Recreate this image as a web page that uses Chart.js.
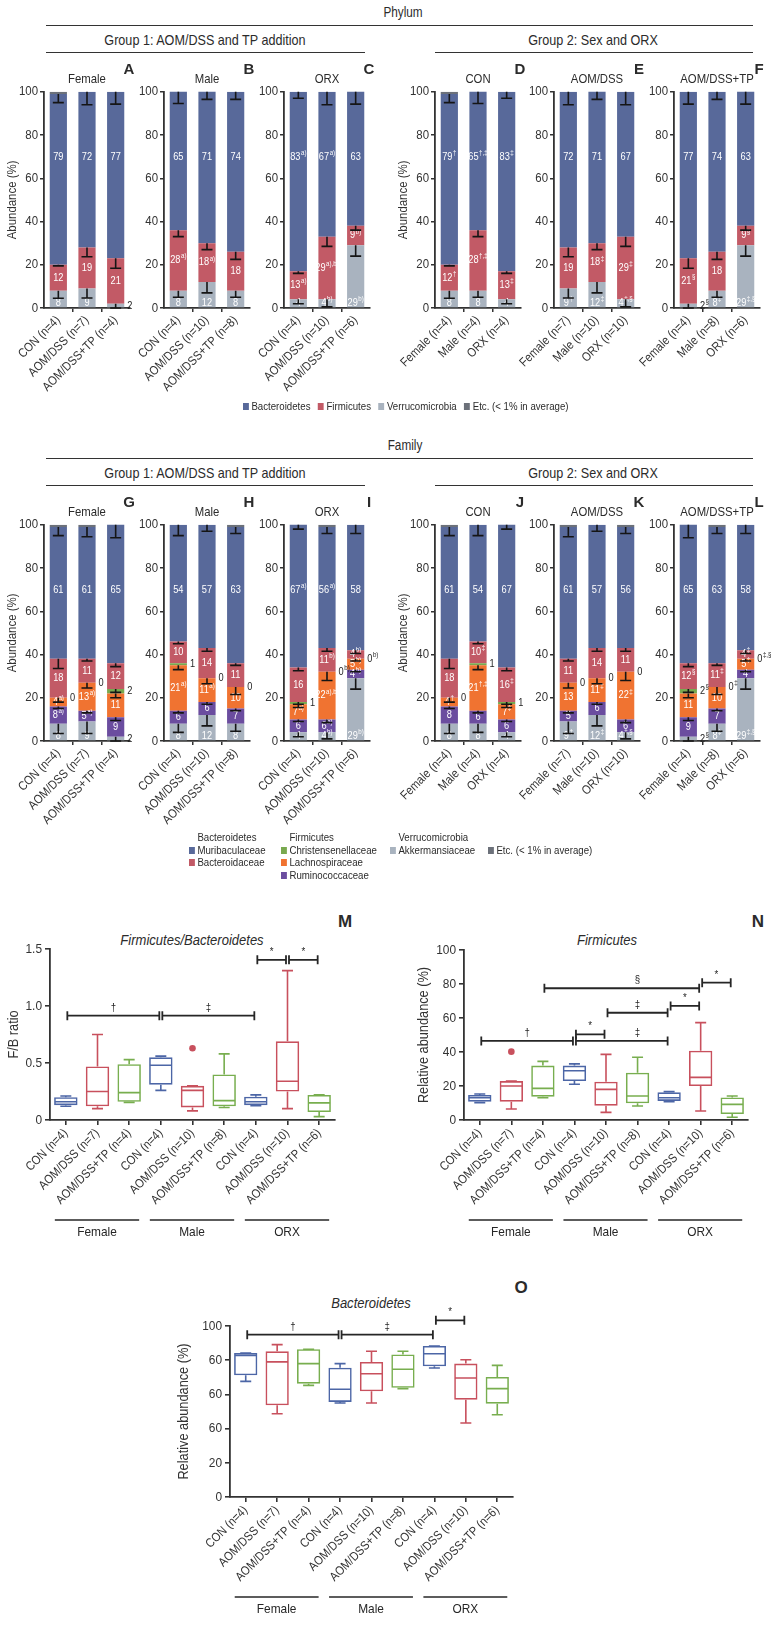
<!DOCTYPE html>
<html>
<head>
<meta charset="utf-8">
<script src="https://cdn.jsdelivr.net/npm/chart.js@4.4.1/dist/chart.umd.min.js"></script>
<style>
  body { margin: 0; background: #fff; width: 771px; height: 1632px; position: relative; overflow: hidden;
         font-family: "Liberation Sans", Arial, sans-serif; color: #2b2b2b; }
  .t { position: absolute; transform: translate(-50%, -50%) scaleX(0.84); white-space: nowrap; }
  .hl { position: absolute; height: 0; border-top: 1.6px solid #333; }
  .letter { font-weight: bold; font-size: 15px; transform: translate(-50%, -50%); }
  .lg { position: absolute; white-space: nowrap; font-size: 11.5px; line-height: 12.7px; transform: scaleX(0.84); transform-origin: 0 0; }
  .sq { display: inline-block; width: 7px; height: 7px; margin-right: 3px; vertical-align: 0px; }
  .it { font-style: italic; font-size: 14px; transform: translate(-50%, -50%) scaleX(0.93); }
</style>
</head>
<body>

<!-- section headers -->
<div class="t" style="left:403px;top:12px;font-size:14px">Phylum</div>
<div class="hl" style="left:46px;top:25px;width:707px"></div>
<div class="t" style="left:205px;top:39px;font-size:15px">Group 1: AOM/DSS and TP addition</div>
<div class="hl" style="left:46px;top:52px;width:319px"></div>
<div class="t" style="left:593px;top:39px;font-size:15px">Group 2: Sex and ORX</div>
<div class="hl" style="left:435px;top:52px;width:318px"></div>

<div class="t" style="left:405px;top:445px;font-size:14px">Family</div>
<div class="hl" style="left:46px;top:458px;width:707px"></div>
<div class="t" style="left:205px;top:472px;font-size:15px">Group 1: AOM/DSS and TP addition</div>
<div class="hl" style="left:46px;top:485px;width:319px"></div>
<div class="t" style="left:593px;top:472px;font-size:15px">Group 2: Sex and ORX</div>
<div class="hl" style="left:435px;top:485px;width:318px"></div>

<div class="t it" style="left:192px;top:940px">Firmicutes/Bacteroidetes</div>
<div class="t it" style="left:607px;top:940px">Firmicutes</div>
<div class="t it" style="left:371px;top:1303px">Bacteroidetes</div>
<div class="t letter" style="left:345px;top:922px;font-size:17px">M</div>
<div class="t letter" style="left:758px;top:922px;font-size:17px">N</div>
<div class="t letter" style="left:521px;top:1288px;font-size:17px">O</div>

<script>
const FONT = '"Liberation Sans", Arial, sans-serif';

// the figure uses a condensed face: squeeze canvas text horizontally
const SQUEEZE = 0.88;
const ctxProto = CanvasRenderingContext2D.prototype;
const rawFillText = ctxProto.fillText;
const rawMeasureText = ctxProto.measureText;
ctxProto.fillText = function (text, x, y) {
  this.save();
  this.translate(x, y);
  this.scale(SQUEEZE, 1);
  rawFillText.call(this, text, 0, 0);
  this.restore();
};
ctxProto.measureText = function (text) {
  const m = rawMeasureText.call(this, text);
  return {
    width: m.width * SQUEEZE,
    actualBoundingBoxAscent: m.actualBoundingBoxAscent,
    actualBoundingBoxDescent: m.actualBoundingBoxDescent,
    actualBoundingBoxLeft: m.actualBoundingBoxLeft * SQUEEZE,
    actualBoundingBoxRight: m.actualBoundingBoxRight * SQUEEZE
  };
};

// ---- common categories ----
const groupNames = ['Female', 'Male', 'ORX'];
const treatNames = ['CON', 'AOM/DSS', 'AOM/DSS+TP'];
const nCounts = [[4, 7, 4], [4, 10, 8], [4, 10, 6]];   // [group][treatment]
const pctTickLabels = ['0', '20', '40', '60', '80', '100'];

// ---- phylum means (%), [group][treatment] ----
const phyBacteroidetes = [[79, 72, 77], [65, 71, 74], [83, 67, 63]];
const phyFirmicutes = [[12, 19, 21], [28, 18, 18], [13, 29, 9]];
const phyVerruco = [[8, 9, 2], [8, 12, 8], [4, 4, 29]];
const phyEtc = [[1, 0, 0], [0, 0, 0], [0, 0, 0]];
// SD (drawn downward from segment top)
const phyBacteroidetesErr = [[4, 6, 5.7], [5.4, 3.5, 3.5], [3, 6, 5.7]];
const phyFirmicutesErr = [[0.5, 4.3, 4.6], [3, 3, 3.5], [1, 4.5, 2]];
const phyVerrucoErr = [[3.5, 4.4, 2], [3, 5, 3], [2, 3.5, 5]];
// significance marks, group 1 panels (A-C) and group 2 panels (D-F)
const phyBacteroidetesSup1 = [['', '', ''], ['', '', ''], ['a)', 'a)', '']];
const phyFirmicutesSup1 = [['', '', ''], ['a)', 'a)', ''], ['a)', 'a),b)', 'b)']];
const phyVerrucoSup1 = [['', '', ''], ['', '', ''], ['', 'b)', 'b)']];
const phyBacteroidetesSup2 = [['†', '', ''], ['†,‡', '', ''], ['‡', '', '']];
const phyFirmicutesSup2 = [['†', '', '§'], ['†,‡', '‡', ''], ['‡', '‡', '§']];
const phyVerrucoSup2 = [['', '†', '§'], ['', '‡', '‡'], ['', '‡,§', '‡,§']];

// ---- family means (%), [group][treatment] ----
const famMuri = [[61, 61, 65], [54, 57, 63], [67, 56, 58]];
const famBacteroidaceae = [[18, 11, 12], [10, 14, 11], [16, 11, 4]];
const famChristensen = [[0, 0, 2], [1, 0, 0], [1, 0, 0]];
const famLachno = [[4, 13, 11], [21, 11, 10], [7, 22, 5]];
const famRumino = [[8, 5, 9], [6, 6, 7], [6, 6, 4]];
const famAkk = [[8, 9, 2], [8, 12, 8], [4, 4, 29]];
const famEtc = [[1, 1, 0], [0, 0, 1], [0, 1, 0]];
const famMuriErr = [[4, 4.5, 6], [5, 3, 3], [2, 3, 4]];
const famBacteroidaceaeErr = [[4.5, 1, 1.6], [1, 1.5, 1], [1.5, 1.5, 1.5]];
const famChristensenErr = [[0, 0, 1.5], [0, 0, 0], [1, 0, 0]];
const famLachnoErr = [[2, 2.5, 2], [2, 2.5, 3.5], [1.5, 4, 1]];
const famRuminoErr = [[1, 1, 1.5], [1, 1, 1], [1, 1.5, 1]];
const famAkkErr = [[4.5, 5.5, 2], [4, 5, 3.5], [2, 3, 5]];
const famMuriSup1 = [['', '', ''], ['', '', ''], ['a)', 'a)', '']];
const famBacteroidaceaeSup1 = [['', '', ''], ['', '', ''], ['', 'b)', 'b)']];
const famChristensenSup1 = [['', '', ''], ['', '', ''], ['', 'b)', 'b)']];
const famLachnoSup1 = [['a)', 'a)', ''], ['a)', 'a)', ''], ['a)', 'a),b)', 'b)']];
const famRuminoSup1 = [['a)', 'a)', ''], ['', '', ''], ['', 'b)', 'b)']];
const famAkkSup1 = [['', '', ''], ['', '', ''], ['', 'b)', 'b)']];
const famMuriSup2 = [['', '', ''], ['', '', ''], ['', '', '']];
const famBacteroidaceaeSup2 = [['', '', '§'], ['‡', '', '‡'], ['‡', '', '‡']];
const famChristensenSup2 = [['', '', '§'], ['', '', '‡'], ['', '', '‡,§']];
const famLachnoSup2 = [['†', '', ''], ['†,‡', '‡', ''], ['‡', '‡', '‡']];
const famRuminoSup2 = [['', '', ''], ['', '', ''], ['', '', '']];
const famAkkSup2 = [['', '†', '§'], ['', '‡', '‡'], ['', '‡,§', '‡,§']];

// ---- box plots, categories = group x treatment ----
const fbTickLabels = ['0', '0.5', '1.0', '1.5'];
const fbMin = [0.12, 0.10, 0.155, 0.26, 0.08, 0.11, 0.125, 0.10, 0.03];
const fbQ1 = [0.13, 0.12, 0.16, 0.31, 0.11, 0.12, 0.13, 0.25, 0.07];
const fbMed = [0.16, 0.25, 0.24, 0.48, 0.26, 0.17, 0.16, 0.34, 0.15];
const fbQ3 = [0.20, 0.47, 0.49, 0.55, 0.30, 0.40, 0.205, 0.69, 0.22];
const fbMax = [0.21, 0.75, 0.53, 0.56, 0.30, 0.58, 0.22, 1.31, 0.22];
const fbOut = [null, null, null, null, 0.63, null, null, null, null];

const firmMin = [10.2, 6.5, 13.1, 21, 4.5, 8.2, 10.8, 5.3, 1.6];
const firmQ1 = [10.8, 10.8, 13.7, 22.9, 8.4, 9.8, 11.2, 20, 3.5];
const firmMed = [13.1, 20, 18.6, 29, 18, 14.1, 13.1, 25.1, 9.2];
const firmQ3 = [14.7, 22.9, 32, 32, 22.5, 27.8, 16.3, 40.8, 13.3];
const firmMax = [15.3, 22.9, 34.5, 33, 38.6, 36.9, 16.7, 57.3, 14.1];
const firmOut = [null, 40.2, null, null, null, null, null, null, null];

const bactTickLabels = ['0', '20', '60', '60', '60', '100'];   // as printed
const bactMin = [67.6, 48.7, 65.3, 55, 55, 63.4, 75.4, 43.3, 48.1];
const bactQ1 = [71.2, 53.6, 66.3, 55.6, 61.8, 63.9, 76.4, 56.9, 54.6];
const bactMed = [82.8, 79, 78, 63, 72.1, 74.7, 83.8, 69.6, 63.4];
const bactQ3 = [84.2, 85.2, 86.4, 75.6, 79, 83.4, 88.3, 78, 70.2];
const bactMax = [84.2, 89.1, 86.4, 78, 85.2, 85.2, 88.3, 80.3, 77];
const bactOut = [null, null, null, null, null, null, null, null, null];

// brackets: from/to category index, y value, mark, mark position (category units)
const fbBrackets = [
  { a: 0, b: 3, y: 0.915, s: '†', sx: 1.5 }, { a: 3, b: 6, y: 0.915, s: '‡', sx: 4.5 },
  { a: 6, b: 7, y: 1.405, s: '*', sx: 6.5 }, { a: 7, b: 8, y: 1.405, s: '*', sx: 7.5 }];
const firmBrackets = [
  { a: 0, b: 3, y: 46.5, s: '†', sx: 1.5 }, { a: 3, b: 6, y: 46.5, s: '‡', sx: 5 },
  { a: 3, b: 4, y: 50.4, s: '*', sx: 3.5 }, { a: 4, b: 6, y: 63.1, s: '‡', sx: 5 },
  { a: 6, b: 7, y: 67.1, s: '*', sx: 6.5 }, { a: 2, b: 7, y: 77.5, s: '§', sx: 5 },
  { a: 7, b: 8, y: 80.8, s: '*', sx: 7.5 }];
const bactBrackets = [
  { a: 0, b: 3, y: 94.9, s: '†', sx: 1.5 }, { a: 3, b: 6, y: 94.9, s: '‡', sx: 4.5 },
  { a: 6, b: 7, y: 103.3, s: '*', sx: 6.5 }];

// ---- colours ----
const COL = {
  blue: '#58699a', red: '#c25a66', grey: '#a9b3bf', etc: '#6c717a',
  green: '#79a94f', orange: '#f07331', purple: '#6b4d9f'
};
const boxColors = ['#4c66a6', '#c8505d', '#78ae4f'];

const phylumSeries = [
  { name: 'Verrucomicrobia', color: COL.grey, vals: phyVerruco, errs: phyVerrucoErr, sup1: phyVerrucoSup1, sup2: phyVerrucoSup2, role: 'bottom' },
  { name: 'Firmicutes', color: COL.red, vals: phyFirmicutes, errs: phyFirmicutesErr, sup1: phyFirmicutesSup1, sup2: phyFirmicutesSup2, role: 'mid' },
  { name: 'Bacteroidetes', color: COL.blue, vals: phyBacteroidetes, errs: phyBacteroidetesErr, sup1: phyBacteroidetesSup1, sup2: phyBacteroidetesSup2, role: 'top' },
  { name: 'Etc. (< 1% in average)', color: COL.etc, vals: phyEtc, role: 'none' }
];
const familySeries = [
  { name: 'Akkermansiaceae', color: COL.grey, vals: famAkk, errs: famAkkErr, sup1: famAkkSup1, sup2: famAkkSup2, role: 'bottom' },
  { name: 'Ruminococcaceae', color: COL.purple, vals: famRumino, errs: famRuminoErr, sup1: famRuminoSup1, sup2: famRuminoSup2, role: 'mid' },
  { name: 'Lachnospiraceae', color: COL.orange, vals: famLachno, errs: famLachnoErr, sup1: famLachnoSup1, sup2: famLachnoSup2, role: 'mid' },
  { name: 'Christensenellaceae', color: COL.green, vals: famChristensen, errs: famChristensenErr, sup1: famChristensenSup1, sup2: famChristensenSup2, role: 'mid' },
  { name: 'Bacteroidaceae', color: COL.red, vals: famBacteroidaceae, errs: famBacteroidaceaeErr, sup1: famBacteroidaceaeSup1, sup2: famBacteroidaceaeSup2, role: 'mid' },
  { name: 'Muribaculaceae', color: COL.blue, vals: famMuri, errs: famMuriErr, sup1: famMuriSup1, sup2: famMuriSup2, role: 'top' },
  { name: 'Etc. (< 1% in average)', color: COL.etc, vals: famEtc, role: 'none' }
];

function mountCanvas(left, top, w, h) {
  const d = document.createElement('div');
  d.style.cssText = `position:absolute;left:${left}px;top:${top}px;width:${w}px;height:${h}px;`;
  const c = document.createElement('canvas');
  d.appendChild(c);
  document.body.appendChild(d);
  return c;
}

function addText(txt, x, y, cls, size) {
  const d = document.createElement('div');
  d.className = 't ' + (cls || '');
  d.style.left = x + 'px';
  d.style.top = y + 'px';
  if (size) d.style.fontSize = size + 'px';
  d.textContent = txt;
  document.body.appendChild(d);
}

// labels + error bars on stacked bars
const stackDecor = {
  id: 'stackDecor',
  afterDatasetsDraw(chart) {
    const ctx = chart.ctx, ys = chart.scales.y;
    const sets = chart.data.datasets;
    const n = chart.data.labels.length;
    ctx.save();
    ctx.textBaseline = 'middle';
    const errs = [];
    for (let i = 0; i < n; i++) {
      let base = 0;
      sets.forEach((ds, k) => {
        const v = ds.data[i];
        const bar = chart.getDatasetMeta(k).data[i];
        const top = Math.min(base + v, 100);
        if (ds.errs && ds.errs[i] > 0) errs.push([bar.x, top, ds.errs[i]]);
        if (ds.role !== 'none') {
          const main = String(v), sup = ds.sups[i] || '';
          let yv = base + v / 2;
          if (ds.role === 'top') yv = 70;
          else if (ds.role === 'bottom' && v >= 3) yv = 2.4;
          ctx.font = `10.5px ${FONT}`;
          const wm = ctx.measureText(main).width;
          ctx.font = `7px ${FONT}`;
          const ws = sup ? ctx.measureText(sup).width + 0.5 : 0;
          let x0;
          if (v < 3) {
            ctx.fillStyle = '#1e1e1e';
            x0 = bar.x + bar.width / 2 + 3;
          } else {
            ctx.fillStyle = '#ffffff';
            x0 = bar.x - (wm + ws) / 2;
          }
          const py = ys.getPixelForValue(yv);
          ctx.textAlign = 'left';
          ctx.font = `10.5px ${FONT}`;
          ctx.fillText(main, x0, py);
          if (sup) {
            ctx.font = `7px ${FONT}`;
            ctx.fillText(sup, x0 + wm + 0.5, py - 4);
          }
        }
        base += v;
      });
    }
    ctx.strokeStyle = '#151515';
    ctx.lineWidth = 1.6;
    errs.forEach(([x, top, e]) => {
      const y1 = ys.getPixelForValue(top), y2 = ys.getPixelForValue(top - e);
      ctx.beginPath();
      ctx.moveTo(x, y1); ctx.lineTo(x, y2);
      ctx.moveTo(x - 5.5, y2); ctx.lineTo(x + 5.5, y2);
      ctx.stroke();
    });
    ctx.restore();
  }
};

function stackPanel(series, groupPanel, p, axisX, top, yTitle) {
  const YW = 44, PT = 8, PR = 26, XH = 95, W = 86, H = 218;
  const pick = arr => [0, 1, 2].map(j => (groupPanel ? arr[p][j] : arr[j][p]));
  const xLabels = [0, 1, 2].map(j => groupPanel
    ? `${treatNames[j]} (n=${nCounts[p][j]})`
    : `${groupNames[j]} (n=${nCounts[j][p]})`);
  const canvas = mountCanvas(axisX - YW, top - PT, YW + W + PR, PT + H + XH);
  new Chart(canvas, {
    type: 'bar',
    data: {
      labels: xLabels,
      datasets: series.map(s => ({
        label: s.name,
        data: pick(s.vals),
        errs: s.errs ? pick(s.errs) : null,
        sups: s.sup1 ? pick(groupPanel ? s.sup1 : s.sup2) : null,
        role: s.role,
        backgroundColor: s.color,
        borderWidth: 0,
        barPercentage: 0.6,
        categoryPercentage: 1,
        clip: 0
      }))
    },
    options: {
      responsive: true, maintainAspectRatio: false, animation: false,
      layout: { padding: { top: PT, right: PR, left: 0, bottom: 0 } },
      plugins: { legend: { display: false }, tooltip: { enabled: false } },
      scales: {
        x: {
          stacked: true,
          grid: { display: true, drawOnChartArea: false, offset: true, tickLength: 4, lineWidth: 1.5,
                  color: c => (c.index > 0 ? '#333' : 'rgba(0,0,0,0)') },
          border: { display: true, color: '#333', width: 1.8 },
          ticks: { autoSkip: false, minRotation: 45, maxRotation: 45, padding: 1, color: '#333',
                   font: { family: FONT, size: 12.5 } },
          afterFit: s => { s.height = XH; }
        },
        y: {
          stacked: true, min: 0, max: 100,
          ticks: { stepSize: 20, padding: 2, color: '#333', font: { family: FONT, size: 13 },
                   callback: (v, i) => pctTickLabels[i] },
          grid: { display: true, drawOnChartArea: false, tickLength: 4, lineWidth: 1.5, color: '#333' },
          border: { display: true, color: '#333', width: 1.8 },
          title: { display: !!yTitle, text: yTitle || '', color: '#333', padding: { top: 5, bottom: 0 },
                   font: { family: FONT, size: 13 } },
          afterFit: s => { s.width = YW; }
        }
      }
    },
    plugins: [stackDecor]
  });
}

function boxDecor(cfg) {
  return {
    id: 'boxDecor',
    afterDatasetsDraw(chart) {
      const ctx = chart.ctx, xs = chart.scales.x, ys = chart.scales.y;
      const meta = chart.getDatasetMeta(0);
      const Y = v => ys.getPixelForValue(v);
      ctx.save();
      ctx.lineWidth = 1.6;
      cfg.med.forEach((m, i) => {
        const x = xs.getPixelForValue(i);
        const hw = meta.data[i].width / 2 - 0.8;
        ctx.strokeStyle = boxColors[i % 3];
        ctx.beginPath();
        ctx.moveTo(x - hw, Y(m)); ctx.lineTo(x + hw, Y(m));
        if (cfg.max[i] > cfg.q3[i]) { ctx.moveTo(x, Y(cfg.q3[i])); ctx.lineTo(x, Y(cfg.max[i])); }
        if (cfg.min[i] < cfg.q1[i]) { ctx.moveTo(x, Y(cfg.q1[i])); ctx.lineTo(x, Y(cfg.min[i])); }
        ctx.moveTo(x - 5.5, Y(cfg.max[i])); ctx.lineTo(x + 5.5, Y(cfg.max[i]));
        ctx.moveTo(x - 5.5, Y(cfg.min[i])); ctx.lineTo(x + 5.5, Y(cfg.min[i]));
        ctx.stroke();
      });
      // significance brackets
      ctx.strokeStyle = '#262626';
      ctx.fillStyle = '#262626';
      ctx.lineWidth = 1.8;
      ctx.textAlign = 'center';
      ctx.textBaseline = 'middle';
      ctx.font = `11px ${FONT}`;
      cfg.brackets.forEach(b => {
        const x1 = xs.getPixelForValue(b.a) + 1.5, x2 = xs.getPixelForValue(b.b) - 1.5, y = Y(b.y);
        ctx.beginPath();
        ctx.moveTo(x1, y); ctx.lineTo(x2, y);
        ctx.moveTo(x1, y - 4.5); ctx.lineTo(x1, y + 4.5);
        ctx.moveTo(x2, y - 4.5); ctx.lineTo(x2, y + 4.5);
        ctx.stroke();
        ctx.fillText(b.s, xs.getPixelForValue(b.sx), y - 8);
      });
      // group underlines
      const gy = chart.chartArea.bottom + 100;
      ctx.lineWidth = 1.5;
      ctx.font = `13.5px ${FONT}`;
      groupNames.forEach((g, k) => {
        const a = xs.getPixelForValue(3 * k) - 11, b = xs.getPixelForValue(3 * k + 2) + 10;
        ctx.beginPath();
        ctx.moveTo(a, gy); ctx.lineTo(b, gy);
        ctx.stroke();
        ctx.fillText(g, (a + b) / 2, gy + 12);
      });
      ctx.restore();
    }
  };
}

function boxPanel(cfg) {
  const PT = 30, PR = 15, XH = 125;
  const W = cfg.right - cfg.axisX, H = cfg.bottom - cfg.top;
  const canvas = mountCanvas(cfg.axisX - cfg.yw, cfg.top - PT, cfg.yw + W + PR, PT + H + XH);
  const labels = [];
  groupNames.forEach((g, gi) => treatNames.forEach((t, ti) => labels.push(`${t} (n=${nCounts[gi][ti]})`)));
  const catColors = labels.map((_, i) => boxColors[i % 3]);
  new Chart(canvas, {
    type: 'bar',
    data: {
      labels,
      datasets: [
        { data: cfg.q1.map((v, i) => [v, cfg.q3[i]]), backgroundColor: 'rgba(0,0,0,0)', borderColor: catColors,
          borderWidth: 1.6, borderSkipped: false, barPercentage: 0.74, categoryPercentage: 1 },
        { type: 'line', data: cfg.out, showLine: false, pointRadius: 3.3, pointBorderWidth: 0,
          pointBackgroundColor: boxColors[1], borderColor: boxColors[1] }
      ]
    },
    options: {
      responsive: true, maintainAspectRatio: false, animation: false,
      layout: { padding: { top: PT, right: PR, left: 0, bottom: 0 } },
      plugins: { legend: { display: false }, tooltip: { enabled: false } },
      scales: {
        x: {
          grid: { display: true, drawOnChartArea: false, offset: false, tickLength: 5, lineWidth: 1.6, color: '#333' },
          border: { display: true, color: '#333', width: 1.8 },
          ticks: { autoSkip: false, minRotation: 45, maxRotation: 45, padding: 1, color: '#333',
                   font: { family: FONT, size: 12.5 } },
          afterFit: s => { s.height = XH; }
        },
        y: {
          min: 0, max: cfg.max,
          ticks: { stepSize: cfg.step, padding: 3, color: '#333', font: { family: FONT, size: 13.5 },
                   callback: (v, i) => cfg.tickLabels[i] },
          grid: { display: true, drawOnChartArea: false, tickLength: 5, lineWidth: 1.6, color: '#333' },
          border: { display: true, color: '#333', width: 1.8 },
          title: { display: true, text: cfg.yTitle, color: '#333', padding: { top: cfg.tp, bottom: 0 },
                   font: { family: FONT, size: 14.5 } },
          afterFit: s => { s.width = cfg.yw; }
        }
      }
    },
    plugins: [boxDecor({ min: cfg.min, q1: cfg.q1, med: cfg.med, q3: cfg.q3, max: cfg.maxv, brackets: cfg.brackets })]
  });
}

// ---- layout ----
const colAxisX = [44, 164, 284, 435, 554, 674];
const panelLetters = [['A', 'B', 'C', 'D', 'E', 'F'], ['G', 'H', 'I', 'J', 'K', 'L']];
const panelTitles = [...groupNames, ...treatNames];
const sections = [{ series: phylumSeries, top: 90 }, { series: familySeries, top: 523 }];

sections.forEach((sec, si) => {
  colAxisX.forEach((ax, c) => {
    const groupPanel = c < 3;
    stackPanel(sec.series, groupPanel, c % 3, ax, sec.top, (c % 3 === 0) ? 'Abundance (%)' : null);
    addText(panelTitles[c], ax + 43, sec.top - 12, '', 13.5);
    addText(panelLetters[si][c], ax + 85, sec.top - 22, 'letter', 15);
  });
});

// phylum legend
(function () {
  const d = document.createElement('div');
  d.className = 'lg';
  d.style.left = '243px';
  d.style.top = '400px';
  d.innerHTML = [...phylumSeries].reverse().filter(s => s.role !== 'none').concat(phylumSeries.filter(s => s.role === 'none'))
    .map(s => `<span class="sq" style="background:${s.color}"></span>${s.name}`).join('<span style="display:inline-block;width:9px"></span>');
  document.body.appendChild(d);
})();

// family legend
const famLegendCols = [
  { x: 189, head: 'Bacteroidetes', items: [familySeries[5], familySeries[4]] },
  { x: 281, head: 'Firmicutes', items: [familySeries[3], familySeries[2], familySeries[1]] },
  { x: 390, head: 'Verrucomicrobia', items: [familySeries[0]] },
  { x: 488, head: '', items: [familySeries[6]] }
];
famLegendCols.forEach(col => {
  const d = document.createElement('div');
  d.className = 'lg';
  d.style.left = col.x + 'px';
  d.style.top = '831px';
  d.innerHTML = `<div style="padding-left:10px">${col.head || '&nbsp;'}</div>` +
    col.items.map(s => `<div><span class="sq" style="background:${s.color}"></span>${s.name}</div>`).join('');
  document.body.appendChild(d);
});

boxPanel({ axisX: 50, right: 335, top: 949, bottom: 1120, yw: 50, tp: 5, max: 1.5, step: 0.5, tickLabels: fbTickLabels,
  yTitle: 'F/B ratio', min: fbMin, q1: fbQ1, med: fbMed, q3: fbQ3, maxv: fbMax, out: fbOut, brackets: fbBrackets });
boxPanel({ axisX: 464, right: 748, top: 950, bottom: 1120, yw: 50, tp: 1, max: 100, step: 20, tickLabels: pctTickLabels,
  yTitle: 'Relative abundance (%)', min: firmMin, q1: firmQ1, med: firmMed, q3: firmQ3, maxv: firmMax, out: firmOut, brackets: firmBrackets });
boxPanel({ axisX: 230, right: 513, top: 1326, bottom: 1497, yw: 56, tp: 1, max: 100, step: 20, tickLabels: bactTickLabels,
  yTitle: 'Relative abundance (%)', min: bactMin, q1: bactQ1, med: bactMed, q3: bactQ3, maxv: bactMax, out: bactOut, brackets: bactBrackets });
</script>
</body>
</html>
